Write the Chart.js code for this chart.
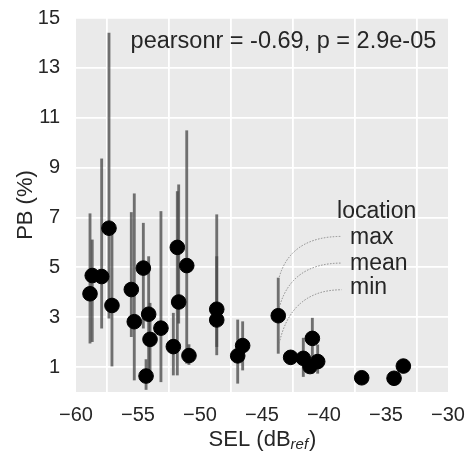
<!DOCTYPE html>
<html>
<head>
<meta charset="utf-8">
<script src="https://cdn.jsdelivr.net/npm/chart.js@4"></script>
<style>
  body { margin: 0; background: #fff; }
</style>
</head>
<body>
<canvas id="myChart" width="465" height="452"></canvas>
<script>
// SEL per location (x) and PB mean / max / min (y)
const sel    = [-58.87, -58.69, -57.93, -57.34, -57.10, -55.54, -55.30, -54.57, -54.14, -54.03,
                -54.35, -53.15, -52.15, -51.83, -51.72, -51.07, -50.89, -48.65, -48.65, -46.96,
                -46.56, -43.69, -42.69, -41.67, -40.94, -41.13, -40.51, -36.96, -34.35, -33.60];
const pbMean = [3.94, 4.67, 4.63, 6.57, 3.47, 4.11, 2.82, 4.97, 3.12, 2.11,
                0.64, 2.56, 1.82, 5.80, 3.61, 5.07, 1.46, 3.32, 2.89, 1.45,
                1.86, 3.06, 1.39, 1.35, 2.15, 1.02, 1.22, 0.57, 0.55, 1.04];
const pbMax  = [7.15, 6.10, 9.35, 14.40, 6.31, 7.20, 7.95, 6.77, 5.43, 3.56,
                1.30, 7.24, 3.16, 8.04, 8.31, 10.48, 1.90, 7.11, 5.43, 2.89,
                2.82, 4.57, null, 2.16, 2.96, null, 1.89, null, null, null];
const pbMin  = [1.96, 2.02, 2.56, 2.96, 1.04, 2.22, 0.48, 2.56, 0.88, 0.82,
                0.10, 0.41, 0.68, 0.68, 2.76, 1.15, 1.10, 1.49, 1.82, 0.35,
                0.88, 1.55, null, 0.62, 0.75, null, 0.75, null, null, null];
const yTicks = [1, 3, 5, 7, 9, 11, 13, 15];
const statText = 'pearsonr = -0.69, p = 2.9e-05';
const keyTitle = 'location';
const keyLabels = ['max', 'mean', 'min'];
const keyIndex = 21; // location used for the key

const FONT = '"Liberation Sans", Arial, Helvetica, sans-serif';
const TXT = '#262626';

const points = sel.map((x, i) => ({x: x, y: pbMean[i]}));
const ranges = [];
sel.forEach((x, i) => {
    if (pbMax[i] != null) ranges.push({x: x, y: [pbMin[i], pbMax[i]]});
});

const bgPlugin = {
    id: 'bg',
    beforeDraw(chart) {
        const {ctx, chartArea: a} = chart;
        ctx.save();
        ctx.fillStyle = '#EAEAEA';
        ctx.fillRect(a.left, a.top, a.width, a.height);
        ctx.restore();
    }
};

const notePlugin = {
    id: 'notes',
    afterDatasetsDraw(chart) {
        const {ctx, chartArea: a} = chart;
        const xs = chart.scales.x, ys = chart.scales.y;
        ctx.save();
        ctx.fillStyle = TXT;
        ctx.textBaseline = 'alphabetic';

        // stats
        ctx.font = '23.5px ' + FONT;
        ctx.textAlign = 'left';
        ctx.fillText(statText, xs.getPixelForValue(-55.6), ys.getPixelForValue(13.8));

        // key text
        ctx.font = '23px ' + FONT;
        ctx.fillText(keyTitle, xs.getPixelForValue(-38.95), ys.getPixelForValue(6.98));
        const keyY = [5.93, 4.88, 3.92];
        keyLabels.forEach((t, k) => {
            ctx.fillText(t, xs.getPixelForValue(-37.9), ys.getPixelForValue(keyY[k]));
        });

        // dotted leaders
        const px = xs.getPixelForValue(sel[keyIndex]);
        const starts = [ys.getPixelForValue(pbMax[keyIndex]) - 1,
                        ys.getPixelForValue(pbMean[keyIndex]) - 8,
                        ys.getPixelForValue(pbMin[keyIndex]) - 10];
        const ends = [6.24, 5.17, 4.10];
        const ex = xs.getPixelForValue(-38.57);
        ctx.strokeStyle = '#8a8a8a';
        ctx.lineWidth = 1;
        ctx.setLineDash([1.5, 1.5]);
        starts.forEach((sy, k) => {
            const ey = ys.getPixelForValue(ends[k]);
            ctx.beginPath();
            ctx.moveTo(px + 1, sy);
            ctx.quadraticCurveTo(px + 0.2 * (ex - px), ey, ex, ey);
            ctx.stroke();
        });
        ctx.setLineDash([]);

        // x title with subscript
        const big = '22px ' + FONT, small = 'italic 15px ' + FONT;
        ctx.font = big;
        const w1 = ctx.measureText('SEL (dB').width;
        const w3 = ctx.measureText(')').width;
        ctx.font = small;
        const w2 = ctx.measureText('ref').width;
        let tx = (a.left + a.right) / 2 - (w1 + w2 + w3) / 2;
        const ty = 446;
        ctx.font = big;
        ctx.fillText('SEL (dB', tx, ty);
        ctx.font = small;
        ctx.fillText('ref', tx + w1, ty + 3);
        ctx.font = big;
        ctx.fillText(')', tx + w1 + w2 + 1, ty);
        ctx.restore();
    }
};

new Chart(document.getElementById('myChart'), {
    type: 'scatter',
    data: {
        datasets: [{
            type: 'scatter',
            data: points,
            backgroundColor: '#000',
            borderColor: '#000',
            pointRadius: 7.3,
            order: 1
        }, {
            type: 'bar',
            data: ranges,
            backgroundColor: 'rgba(70,70,70,0.75)',
            barThickness: 2.2,
            grouped: false,
            order: 2
        }]
    },
    options: {
        responsive: false,
        animation: false,
        devicePixelRatio: 1,
        layout: { padding: { left: 0, right: 17, top: 18, bottom: 0 } },
        plugins: { legend: { display: false }, tooltip: { enabled: false } },
        scales: {
            x: {
                type: 'linear',
                min: -60, max: -30,
                offset: false,
                border: { display: false },
                grid: { color: '#fff', lineWidth: 1.8, drawTicks: false },
                ticks: {
                    stepSize: 5,
                    padding: 11,
                    color: TXT,
                    font: { family: FONT, size: 20 },
                    callback: v => String(v).replace('-', '\u2212')
                },
                afterFit(scale) {
                    scale.height = 60;
                    scale.paddingLeft = 0;
                    scale.paddingRight = 0;
                }
            },
            y: {
                type: 'linear',
                min: 0, max: 15,
                border: { display: false },
                grid: { color: '#fff', lineWidth: 1.8, drawTicks: false },
                ticks: {
                    padding: 16,
                    color: TXT,
                    font: { family: FONT, size: 20 }
                },
                afterBuildTicks(scale) { scale.ticks = yTicks.map(v => ({value: v})); },
                title: {
                    display: true,
                    text: 'PB (%)',
                    color: TXT,
                    font: { family: FONT, size: 22 },
                    padding: { top: 13, bottom: 0 }
                },
                afterFit(scale) {
                    scale.width = 76;
                    scale.paddingTop = 0;
                    scale.paddingBottom = 0;
                }
            }
        }
    },
    plugins: [bgPlugin, notePlugin]
});
</script>
</body>
</html>
